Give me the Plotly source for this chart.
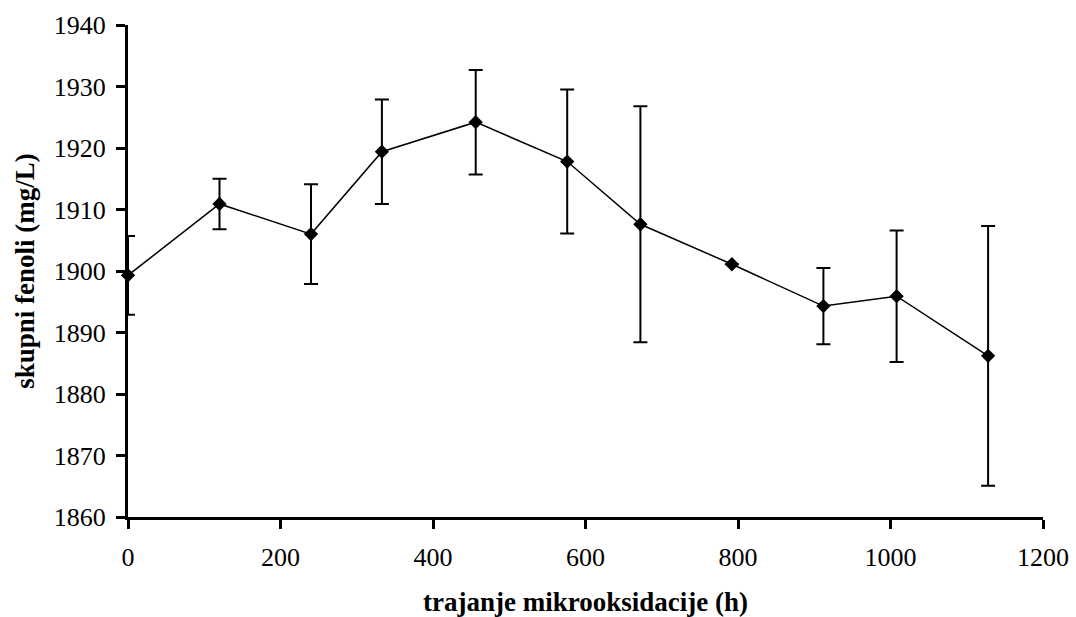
import plotly.graph_objects as go

hours = [0, 120, 240, 333, 456, 576, 672, 792, 912, 1008, 1128]
fenoli = [1899.3, 1910.9, 1906.0, 1919.4, 1924.2, 1917.8, 1907.6, 1901.1, 1894.3, 1895.9, 1886.2]
err = [6.4, 4.1, 8.1, 8.5, 8.5, 11.7, 19.2, 0.0, 6.2, 10.7, 21.1]

x_ticks = [0, 200, 400, 600, 800, 1000, 1200]
y_ticks = [1860, 1870, 1880, 1890, 1900, 1910, 1920, 1930, 1940]

font = "Liberation Serif, Times New Roman, serif"

fig = go.Figure()
fig.add_trace(go.Scatter(
    x=hours, y=fenoli,
    mode="lines+markers",
    line=dict(color="black", width=1.5),
    marker=dict(symbol="diamond", size=11, color="black"),
    error_y=dict(type="data", array=err, visible=True, color="black", thickness=2, width=7),
    cliponaxis=False,
    showlegend=False,
))

fig.update_layout(
    width=1076, height=617,
    margin=dict(l=128, r=33, t=25, b=100),
    paper_bgcolor="white", plot_bgcolor="white",
    font=dict(family=font, color="black", size=26),
    xaxis=dict(
        range=[0, 1200], tickvals=x_ticks, ticktext=[str(v) for v in x_ticks],
        showgrid=False, zeroline=False, showline=True, linecolor="black", linewidth=3,
        ticks="outside", ticklen=9, tickwidth=3, tickcolor="black",
        ticklabelstandoff=6, automargin=False,
        tickfont=dict(family=font, size=26),
        title=dict(text="<b>trajanje mikrooksidacije (h)</b>", font=dict(family=font, size=27), standoff=26),
    ),
    yaxis=dict(
        range=[1860, 1940], tickvals=y_ticks, ticktext=[str(v) for v in y_ticks],
        showgrid=False, zeroline=False, showline=True, linecolor="black", linewidth=3,
        ticks="outside", ticklen=9, tickwidth=3, tickcolor="black",
        ticklabelstandoff=5, automargin=False,
        tickfont=dict(family=font, size=26),
        title=dict(text="<b>skupni fenoli (mg/L)</b>", font=dict(family=font, size=27), standoff=12),
    ),
)

fig.write_html("out.html")
